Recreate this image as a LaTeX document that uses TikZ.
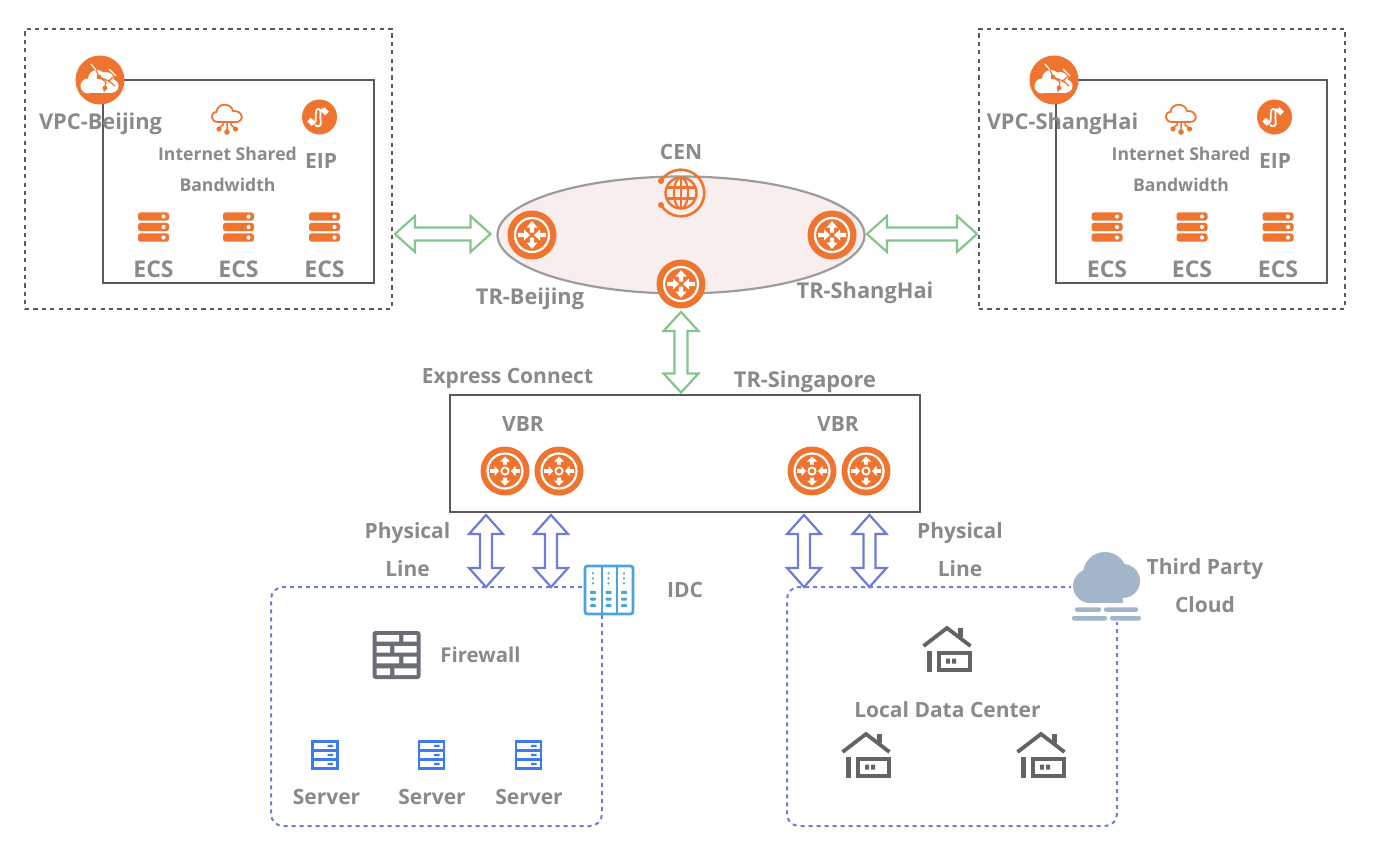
\documentclass[tikz,border=0pt]{standalone}
\usepackage{fontspec}
\setmainfont{Open Sans}
\usetikzlibrary{calc}
\definecolor{orng}{HTML}{EE7430}
\definecolor{lbl}{HTML}{8A8A8A}
\definecolor{frame}{HTML}{5A5A5A}
\definecolor{grn}{HTML}{86C48B}
\definecolor{vio}{HTML}{6E7BD8}
\definecolor{ellfill}{HTML}{F8EEEE}
\definecolor{idcblue}{HTML}{4CA3DD}
\definecolor{srvblue}{HTML}{3B7BF0}
\definecolor{fwgray}{HTML}{6A6D78}
\definecolor{cloudc}{HTML}{A3B5C8}
\definecolor{house}{HTML}{646464}
\newcommand\blockarrow[6]{% style, a, b, head length, head half width, shaft half width
  \draw[#1] (#2)
    -- ($(#2)!#4pt!(#3)!#5pt!90:(#3)$) -- ($(#2)!#4pt!(#3)!#6pt!90:(#3)$)
    -- ($(#3)!#4pt!(#2)!#6pt!-90:(#2)$) -- ($(#3)!#4pt!(#2)!#5pt!-90:(#2)$)
    -- (#3)
    -- ($(#3)!#4pt!(#2)!#5pt!90:(#2)$) -- ($(#3)!#4pt!(#2)!#6pt!90:(#2)$)
    -- ($(#2)!#4pt!(#3)!#6pt!-90:(#3)$) -- ($(#2)!#4pt!(#3)!#5pt!-90:(#3)$)
    -- cycle;}
\tikzset{
  txt/.style={text=lbl,inner sep=0pt,outer sep=0pt,font=\fontsize{21}{21}\selectfont\bfseries},
  txtw/.style={txt,font=\fontsize{21.8}{21.8}\selectfont\bfseries},
  txtecs/.style={txt,font=\fontsize{23}{23}\selectfont\bfseries},
  txtsm/.style={txt,font=\fontsize{17.6}{17.6}\selectfont\bfseries},
  dashbox/.style={draw=frame,line width=2.1pt,dash pattern=on 4.2pt off 4.2pt,inner sep=0pt,outer sep=0pt},
  solidbox/.style={draw=frame,line width=2.6pt,inner sep=0pt,outer sep=0pt},
  viobox/.style={draw=vio,line width=2pt,dash pattern=on 4pt off 4pt,rounded corners=12pt,inner sep=0pt,outer sep=0pt},
  grnarrow/.style={draw=grn,line width=2.2pt,line join=miter,fill=white},
  vioarrow/.style={draw=vio,line width=2.2pt,line join=miter,fill=white},
  router/.pic={
    \fill[orng] (0,0) circle[radius=24.5pt];
    \draw[white,line width=2.2pt] (0,0) circle[radius=17pt];
    \fill[white] (0,-14)--(5.5,-7.5)--(2.2,-7.5)--(2.2,-2.5)--(-2.2,-2.5)--(-2.2,-7.5)--(-5.5,-7.5)--cycle;
    \fill[white] (0,14)--(5.5,7.5)--(2.2,7.5)--(2.2,2.5)--(-2.2,2.5)--(-2.2,7.5)--(-5.5,7.5)--cycle;
    \fill[white] (-2,0)--(-8,5.5)--(-8,2.2)--(-14,2.2)--(-14,-2.2)--(-8,-2.2)--(-8,-5.5)--cycle;
    \fill[white] (2,0)--(8,5.5)--(8,2.2)--(14,2.2)--(14,-2.2)--(8,-2.2)--(8,-5.5)--cycle;
  },
  routerdot/.pic={
    \fill[orng] (0,0) circle[radius=24.5pt];
    \draw[white,line width=2.2pt] (0,0) circle[radius=17.5pt];
    \draw[white,line width=1.8pt] (0,0) circle[radius=3.6pt];
    \fill[white] (0,-14.5)--(5,-9.5)--(1.9,-9.5)--(1.9,-6.5)--(-1.9,-6.5)--(-1.9,-9.5)--(-5,-9.5)--cycle;
    \fill[white] (0,14.5)--(5,9.5)--(1.9,9.5)--(1.9,6.5)--(-1.9,6.5)--(-1.9,9.5)--(-5,9.5)--cycle;
    \fill[white] (-6,0)--(-10.5,5)--(-10.5,1.9)--(-15,1.9)--(-15,-1.9)--(-10.5,-1.9)--(-10.5,-5)--cycle;
    \fill[white] (6,0)--(10.5,5)--(10.5,1.9)--(15,1.9)--(15,-1.9)--(10.5,-1.9)--(10.5,-5)--cycle;
  },
  vpcicon/.pic={
    \fill[orng] (0,0) circle[radius=24.5pt];
    \fill[white] (-12,6) circle[radius=7.5pt] (-3,-1) circle[radius=9pt] (6,0) circle[radius=8pt] (12,6) circle[radius=6.5pt];
    \fill[white] (-12,3) rectangle (13,12.5);
    \draw[orng,line width=1.2pt] (-4,-10)--(-1,-3)--(9,1)--(13,-3) (-1,-3)--(6,2)--(4,12) (9,1)--(15,6);
    \fill[orng] (-1,-3) circle[radius=2.4pt] (9,1) circle[radius=1.6pt] (5,8) circle[radius=2.4pt];
    \draw[white,line width=1.2pt] (-4,-10)--(-9,-16) (9,-11)--(16,-4);
  },
  isb/.pic={
    \draw[orng,line width=1.8pt,line join=round] (-9,4) .. controls (-17,4) and (-17,-6) .. (-10.5,-6)
      .. controls (-10,-15) and (4,-16) .. (6,-7)
      .. controls (16,-8) and (18,4) .. (9,4) -- cycle;
    \draw[orng,line width=1.5pt] (0,4)--(0,13) (-4,4)--(-4,7)--(-8,10) (4,4)--(4,7)--(8,10);
    \fill[orng] (0,14) circle[radius=2.8pt] (-8,11) circle[radius=2.6pt] (8.5,11) circle[radius=2.6pt];
  },
  eip/.pic={
    \fill[orng] (0,0) circle[radius=17.5pt];
    \draw[white,line width=1.8pt,line cap=round,line join=round] (-6,7) .. controls (-2,4) and (-5,-3) .. (-3,-7)
       .. controls (-1,-10) and (2,-7) .. (1,-3) .. controls (0,2) and (3,7) .. (0,9) .. controls (-2,10) and (-3,9) .. (-4,8);
    \draw[white,line width=5pt] (-10.5,2.5)--(-6,7) (3,-8)--(7.5,-3.5);
    \draw[white,line width=1.8pt] (1,-6.5)--(3,-8);
  },
  ecs/.pic={
    \foreach \yy in {-10.5,0,10.5}{
      \fill[orng,rounded corners=2.5pt] (-15.5,\yy-4.1) rectangle (15.5,\yy+4.1);
      \fill[white] (10,\yy) circle[radius=2.1pt];}
  },
  server/.pic={
    \draw[srvblue,line width=2.3pt] (-12.5,-13.5) rectangle (12.5,13.5) (-12.5,-4.5)--(12.5,-4.5) (-12.5,4.5)--(12.5,4.5);
    \fill[srvblue] (2.5,-10.2) rectangle (8,-7.8) (2.5,-1.2) rectangle (8,1.2) (2.5,7.8) rectangle (8,10.2);
  },
  househ/.pic={
    \draw[house,line width=3.8pt] (-23.5,-2)--(0,-20)--(23.5,-2);
    \fill[house] (11,-20.5) rectangle (16,-11);
    \fill[house] (-20.5,3) rectangle (-15,24);
    \draw[house,line width=4pt] (-8,5) rectangle (23,22);
    \fill[house] (-1,10.5) rectangle (3,15.5) (5,10.5) rectangle (9,15.5);
  },
}
\begin{document}
\begin{tikzpicture}[x=1pt,y=-1pt]
\useasboundingbox (0,0) rectangle (1386,852);
\fill[white] (0,0) rectangle (1386,852);

% VPC Beijing
\node[dashbox,minimum width=367pt,minimum height=280pt] (vpcbj) at (208.5,169) {};
\node[solidbox,minimum width=271pt,minimum height=203pt] (innerbj) at (238.5,181.5) {};
\pic (iconbj) at (100,80) {vpcicon};
\node[txtw] (tvpcbj) at (100.5,124) {VPC-Beijing};
\pic (isbbj) at (227,118) {isb};
\node[txtsm] (tisb1) at (227.5,154) {Internet Shared};
\node[txtsm] (tisb2) at (227.5,185) {Bandwidth};
\pic (eipbj) at (319.5,117) {eip};
\node[txt] (teipbj) at (321,160.5) {EIP};
\pic (ecsb1) at (153.5,227) {ecs};
\pic (ecsb2) at (238.5,227) {ecs};
\pic (ecsb3) at (324.5,227) {ecs};
\node[txtecs] (tecsb1) at (153.5,269.5) {ECS};
\node[txtecs] (tecsb2) at (238.5,269.5) {ECS};
\node[txtecs] (tecsb3) at (324.5,269.5) {ECS};

% VPC ShangHai
\node[dashbox,minimum width=366pt,minimum height=280pt] (vpcsh) at (1162,169) {};
\node[solidbox,minimum width=271pt,minimum height=203pt] (innersh) at (1191.5,181.5) {};
\pic (iconsh) at (1054,80) {vpcicon};
\node[txtw] (tvpcsh) at (1062.5,124) {VPC-ShangHai};
\pic (isbsh) at (1181,118) {isb};
\node[txtsm] (tisb3) at (1181,154) {Internet Shared};
\node[txtsm] (tisb4) at (1181,185) {Bandwidth};
\pic (eipsh) at (1274.5,117) {eip};
\node[txt] (teipsh) at (1275,160.5) {EIP};
\pic (ecss1) at (1107,227) {ecs};
\pic (ecss2) at (1192,227) {ecs};
\pic (ecss3) at (1278,227) {ecs};
\node[txtecs] (tecss1) at (1107,269.5) {ECS};
\node[txtecs] (tecss2) at (1192,269.5) {ECS};
\node[txtecs] (tecss3) at (1278,269.5) {ECS};

% CEN
\coordinate (cenc) at (681,235);
\draw[draw=lbl!85,line width=2.2pt,fill=ellfill] (cenc) ellipse[x radius=183.5pt,y radius=58.5pt];
\node[inner sep=0pt,outer sep=0pt,minimum width=367pt,minimum height=117pt] (cen) at (cenc) {};
\node[txt] (tcen) at (681,152) {CEN};
\begin{scope}[shift={(681,193)},orng]
  \draw[line width=2.6pt] (-20,-12) arc[start angle=149,end angle=-149,radius=23.3pt];
  \fill (-20,-12) circle[radius=3pt] (-20,12) circle[radius=3pt];
  \fill[ellfill] (0,0) circle[radius=16pt];
  \draw[line width=2.4pt] (0,0) circle[radius=15.5pt];
  \draw[line width=2.2pt] (0,0) ellipse[x radius=7pt,y radius=15.5pt];
  \draw[line width=2.2pt] (-15,-5.5)--(15,-5.5) (-15,5.5)--(15,5.5) (0,-16)--(0,16);
\end{scope}
\pic (trbj) at (532,235) {router};
\pic (trsh) at (832,235) {router};
\pic (trsg) at (681,284) {router};
\node[txtw] (ttrbj) at (530,298.5) {TR-Beijing};
\node[txtw] (ttrsh) at (865,292.5) {TR-ShangHai};

% Express Connect
\node[solidbox,minimum width=470pt,minimum height=117pt] (ec) at (685,453.5) {};
\node[txt] (tec) at (507.5,378) {Express Connect};
\node[txtw] (ttrsg) at (805,381.5) {TR-Singapore};
\node[txt] (tvbr1) at (523,424) {VBR};
\node[txt] (tvbr2) at (838,424) {VBR};
\pic (v1) at (505,471) {routerdot};
\pic (v2) at (559,471) {routerdot};
\pic (v3) at (812,471) {routerdot};
\pic (v4) at (866,471) {routerdot};

% IDC
\node[viobox,minimum width=331pt,minimum height=239pt] (idc) at (436.5,706.5) {};
\begin{scope}[idcblue]
  \draw[line width=2.8pt,fill=white,rounded corners=2.5pt] (585,566) rectangle (633,614);
  \draw[line width=2.2pt] (601.7,566)--(601.7,614) (616.7,566)--(616.7,614);
  \foreach \cx in {593,608.5,624}{
    \fill (\cx,573.3) circle[radius=1.2pt] (\cx,578.3) circle[radius=1.2pt] (\cx,583.3) circle[radius=1.2pt];
    \fill[rounded corners=0.8pt] (\cx-3,590.8) rectangle (\cx+3,593.8) (\cx-3,597.5) rectangle (\cx+3,600.5) (\cx-3,604.2) rectangle (\cx+3,607.2);}
\end{scope}
\node[txt] (tidc) at (685,590) {IDC};
\fill[fwgray,rounded corners=3pt] (372.5,631) rectangle (420.5,679);
\fill[white] (376.7,635) rectangle (399,641.7) (403.3,635) rectangle (416.7,641.7)
  (376.7,646) rectangle (390,652.7) (394.3,646) rectangle (416.7,652.7)
  (376.7,656.7) rectangle (399,663.3) (403.3,656.7) rectangle (416.7,663.3)
  (376.7,668.3) rectangle (390,675) (394.3,668.3) rectangle (416.7,675);
\node[txt,font=\fontsize{20.4}{20.4}\selectfont\bfseries] (tfw) at (480.5,654.5) {Firewall};
\pic (s1) at (325,755) {server};
\pic (s2) at (431.5,755) {server};
\pic (s3) at (528.5,755) {server};
\node[txt] (ts1) at (326.5,796.5) {Server};
\node[txt] (ts2) at (432,796.5) {Server};
\node[txt] (ts3) at (529,796.5) {Server};

% Local data center
\node[viobox,minimum width=330pt,minimum height=239pt] (ldc) at (952,706.5) {};
\begin{scope}[cloudc]
  \fill[white] (1071,550) rectangle (1142,604);
  \fill (1105,574) circle[radius=22pt] (1090,586) circle[radius=17pt] (1123,581) circle[radius=17pt];
  \fill (1090,580) rectangle (1123,603);
  \fill[white] (1071,605) rectangle (1142,622);
  \fill[rounded corners=2pt] (1075,607.3) rectangle (1101,611.8) (1104,607.3) rectangle (1138,611.8)
     (1072,616) rectangle (1107,620.5) (1110,616) rectangle (1141,620.5);
\end{scope}
\node[txt] (ttp1) at (1205,569.5) {Third Party};
\node[txt] (ttp2) at (1205,604.5) {Cloud};
\pic (h1) at (947,648) {househ};
\pic (h2) at (866,754) {househ};
\pic (h3) at (1041,754) {househ};
\node[txt] (tldc) at (947.5,709.5) {Local Data Center};

% physical labels
\node[txt] (tpl1) at (407.5,533.5) {Physical};
\node[txt] (tpl2) at (407.5,568.5) {Line};
\node[txt] (tpl3) at (960,533.5) {Physical};
\node[txt] (tpl4) at (960,568.5) {Line};

% connectors
\coordinate (g1a) at ($(vpcbj.east |- cenc)+(3,-1)$);
\coordinate (g1b) at ($(cen.west)+(-7,-1)$);
\coordinate (g2a) at ($(cen.east)+(2.5,-1)$);
\coordinate (g2b) at ($(vpcsh.west |- cenc)+(-2,-1)$);
\coordinate (g3a) at (681,312);
\coordinate (g3b) at ($(ec.north -| g3a)+(0,-2.5)$);
\blockarrow{grnarrow}{g1a}{g1b}{20}{18}{6.5}
\blockarrow{grnarrow}{g2a}{g2b}{20}{18}{6.5}
\blockarrow{grnarrow}{g3a}{g3b}{19}{17.5}{6.5}
\coordinate (p1a) at ($(ec.south)+(-199,3)$);
\coordinate (p2a) at ($(ec.south)+(-134,3)$);
\coordinate (p3a) at ($(ec.south)+(119,3)$);
\coordinate (p4a) at ($(ec.south)+(184.5,3)$);
\coordinate (p1b) at (idc.north -| p1a);
\coordinate (p2b) at (idc.north -| p2a);
\coordinate (p3b) at (ldc.north -| p3a);
\coordinate (p4b) at (ldc.north -| p4a);
\blockarrow{vioarrow}{p1a}{p1b}{19}{17}{6}
\blockarrow{vioarrow}{p2a}{p2b}{19}{17}{6}
\blockarrow{vioarrow}{p3a}{p3b}{19}{17}{6}
\blockarrow{vioarrow}{p4a}{p4b}{19}{17}{6}
\end{tikzpicture}
\end{document}
